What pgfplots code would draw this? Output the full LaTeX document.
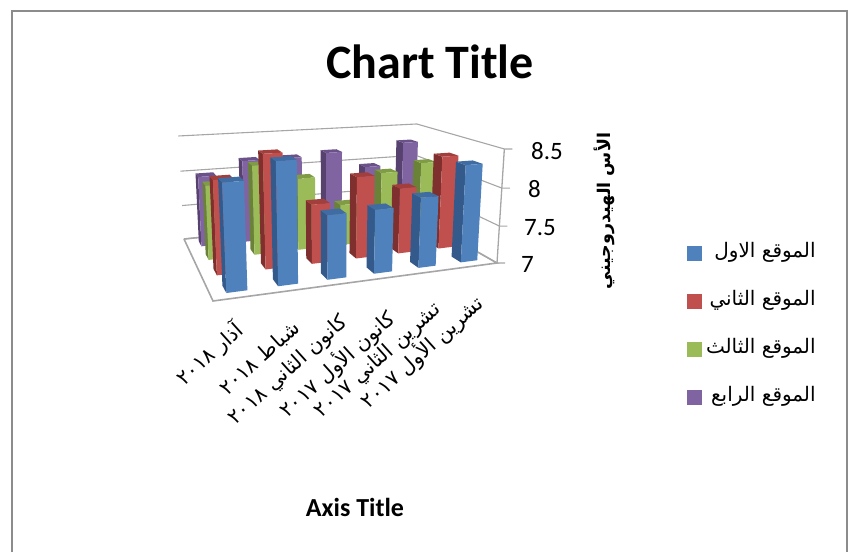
\documentclass[border=0pt]{standalone}
\usepackage{pgfplots}
\usepackage{pgfplotstable}
\usepackage{fontspec}
\pgfplotsset{compat=1.18}
\setmainfont{Carlito}
\newfontfamily\arabicfont[Script=Arabic]{DejaVu Sans}
\TeXXeTstate=1

% pH readings: one row per month, one column per site
\pgfplotstableread{
s0   s1   s2   s3
8.30 8.20 8.00 7.99
8.50 8.48 8.22 8.17
7.81 7.79 8.00 8.17
7.82 8.10 7.58 8.21
7.92 7.90 7.99 7.96
8.29 8.29 8.09 8.29
}\phdata

\definecolor{s0front}{HTML}{4F81BD}
\definecolor{s0side}{HTML}{335A8A}
\definecolor{s0top}{HTML}{3F6CA3}
\definecolor{s1front}{HTML}{C0504D}
\definecolor{s1side}{HTML}{7F2F2D}
\definecolor{s1top}{HTML}{A23F3C}
\definecolor{s2front}{HTML}{9BBB59}
\definecolor{s2side}{HTML}{6A8237}
\definecolor{s2top}{HTML}{7F9C45}
\definecolor{s3front}{HTML}{8064A2}
\definecolor{s3side}{HTML}{57416F}
\definecolor{s3top}{HTML}{6B5189}
\definecolor{wallgrey}{HTML}{A6A6A6}
\definecolor{framegrey}{HTML}{8C8C8C}

% Perspective projection of (category, depth, height), each in 0..1, to the axis plane
\newcommand{\addcorner}[3]{%
  \pgfmathsetmacro\pd{1+0.1656*(#1)+0.2962*(#2)-0.0483*(#3)}%
  \pgfmathsetmacro\px{(213+366.3*(#1)+25.5*(#2)-15.8*(#3))/\pd}%
  \pgfmathsetmacro\py{(301+5.55*(#1)+8.79*(#2)-140.1*(#3))/\pd}%
  \xdef\facepath{\facepath (\px,\py) }%
}
\newcommand{\drawface}[1]{%
  \edef\tmp{\noexpand\addplot[forget plot,fill=#1,draw=none] coordinates {\facepath} -- cycle;}\tmp
  \gdef\facepath{}%
}
\newcommand{\drawedge}[1]{%
  \edef\tmp{\noexpand\addplot[forget plot,draw=wallgrey,line width=#1] coordinates {\facepath};}\tmp
  \gdef\facepath{}%
}
\gdef\facepath{}
% One column: category, series, value
\newcommand{\drawbar}[3]{%
  \pgfmathsetmacro\ua{(#1+0.3)/6}\pgfmathsetmacro\ub{(#1+0.7)/6}%
  \pgfmathsetmacro\va{(#2+0.3)/4}\pgfmathsetmacro\vb{(#2+0.7)/4}%
  \pgfmathsetmacro\wt{(#3-7)/1.5}%
  \addcorner{\ua}{\va}{0}\addcorner{\ua}{\vb}{0}\addcorner{\ua}{\vb}{\wt}\addcorner{\ua}{\va}{\wt}%
  \drawface{s#2side}%
  \addcorner{\ua}{\va}{\wt}\addcorner{\ub}{\va}{\wt}\addcorner{\ub}{\vb}{\wt}\addcorner{\ua}{\vb}{\wt}%
  \drawface{s#2top}%
  \addcorner{\ua}{\va}{0}\addcorner{\ub}{\va}{0}\addcorner{\ub}{\va}{\wt}\addcorner{\ua}{\va}{\wt}%
  \drawface{s#2front}%
}
% Gridline along the back and right walls at a given pH, with its outer tick
\newcommand{\wallline}[1]{%
  \pgfmathsetmacro\wl{(#1-7)/1.5}%
  \addcorner{0}{1}{\wl}\addcorner{1}{1}{\wl}\addcorner{1}{0}{\wl}%
  \pgfmathsetmacro\tickx{\px+8}%
  \xdef\facepath{\facepath (\tickx,\py) }%
  \drawedge{1.1pt}%
}
\newcommand{\monthlabel}[3]{%
  \node[rotate=42,anchor=east,inner sep=0pt,font=\fontsize{20.5}{20.5}\arabicfont]
    at (axis cs:#1,#2) {#3};%
}

\begin{document}
\begin{tikzpicture}
\path[use as bounding box] (0,0) rectangle (848pt,552pt);
\begin{axis}[
  at={(0,0)}, anchor=south west,
  scale only axis, width=848pt, height=552pt,
  xmin=0, xmax=848, ymin=0, ymax=552, y dir=reverse,
  hide axis, clip=false,
  legend image code/.code={\fill[draw=none,#1] (0pt,-7.5pt) rectangle (15pt,7.5pt);},
  legend cell align=right,
  legend style={at={(axis cs:687,243)}, anchor=north west, draw=none, fill=none,
    inner sep=0pt, outer sep=0pt, row sep=28pt, column sep=4pt,
    nodes={inner sep=0pt, text height=14pt, text depth=6pt, font=\fontsize{20}{20}\arabicfont}},
]
% chart frame
\addplot[forget plot, draw=framegrey, line width=1.6pt] coordinates {(12,552) (12,11) (847,11) (847,552)};

% floor
\addcorner{0}{0}{0}\addcorner{1}{0}{0}\addcorner{1}{1}{0}\addcorner{0}{1}{0}
\drawface{white}
\addcorner{0}{1}{0}\addcorner{0}{0}{0}\addcorner{1}{0}{0}\addcorner{1}{1}{0}\addcorner{0}{1}{0}
\drawedge{1.6pt}
\wallline{7}\wallline{7.5}\wallline{8}\wallline{8.5}
\addcorner{1}{0}{0}\addcorner{1}{0}{1}
\drawedge{1.3pt}

% columns, back row first and right to left inside each row
\pgfplotsforeachungrouped \ser in {3,2,1,0}{%
  \pgfplotsforeachungrouped \cat in {5,4,3,2,1,0}{%
    \pgfplotstablegetelem{\cat}{s\ser}\of{\phdata}%
    \let\val\pgfplotsretval
    \drawbar{\cat}{\ser}{\val}%
  }%
}

\addlegendimage{fill=s0front}\addlegendentry{\beginR الموقع الاول\endR}
\addlegendimage{fill=s1front}\addlegendentry{\beginR الموقع الثاني\endR}
\addlegendimage{fill=s2front}\addlegendentry{\beginR الموقع الثالث\endR}
\addlegendimage{fill=s3front}\addlegendentry{\beginR الموقع الرابع\endR}

\node[font=\fontsize{48}{48}\selectfont\bfseries] at (axis cs:430,62) {Chart Title};
\node[font=\fontsize{26}{26}\selectfont\bfseries] at (axis cs:355,507) {Axis Title};

% value axis numbers
\node[anchor=west,inner sep=0pt,font=\fontsize{25}{25}\selectfont] at (axis cs:531,151) {8.5};
\node[anchor=west,inner sep=0pt,font=\fontsize{25}{25}\selectfont] at (axis cs:528,189) {8};
\node[anchor=west,inner sep=0pt,font=\fontsize{25}{25}\selectfont] at (axis cs:524,228) {7.5};
\node[anchor=west,inner sep=0pt,font=\fontsize{25}{25}\selectfont] at (axis cs:521,264) {7};

\node[rotate=90,inner sep=0pt,font=\fontsize{17.5}{17.5}\arabicfont\bfseries] at (axis cs:604,211)
  {\beginR الأس الهيدروجيني\endR};

% month labels
\monthlabel{240}{327}{\beginR آذار \beginL ٢٠١٨\endL\endR}
\monthlabel{297}{325}{\beginR شباط \beginL ٢٠١٨\endL\endR}
\monthlabel{345}{320}{\beginR كانون الثاني \beginL ٢٠١٨\endL\endR}
\monthlabel{392}{315}{\beginR كانون الأول \beginL ٢٠١٧\endL\endR}
\monthlabel{438}{307}{\beginR تشرين الثاني \beginL ٢٠١٧\endL\endR}
\monthlabel{480}{300}{\beginR تشرين الأول \beginL ٢٠١٧\endL\endR}
\end{axis}
\end{tikzpicture}
\end{document}
